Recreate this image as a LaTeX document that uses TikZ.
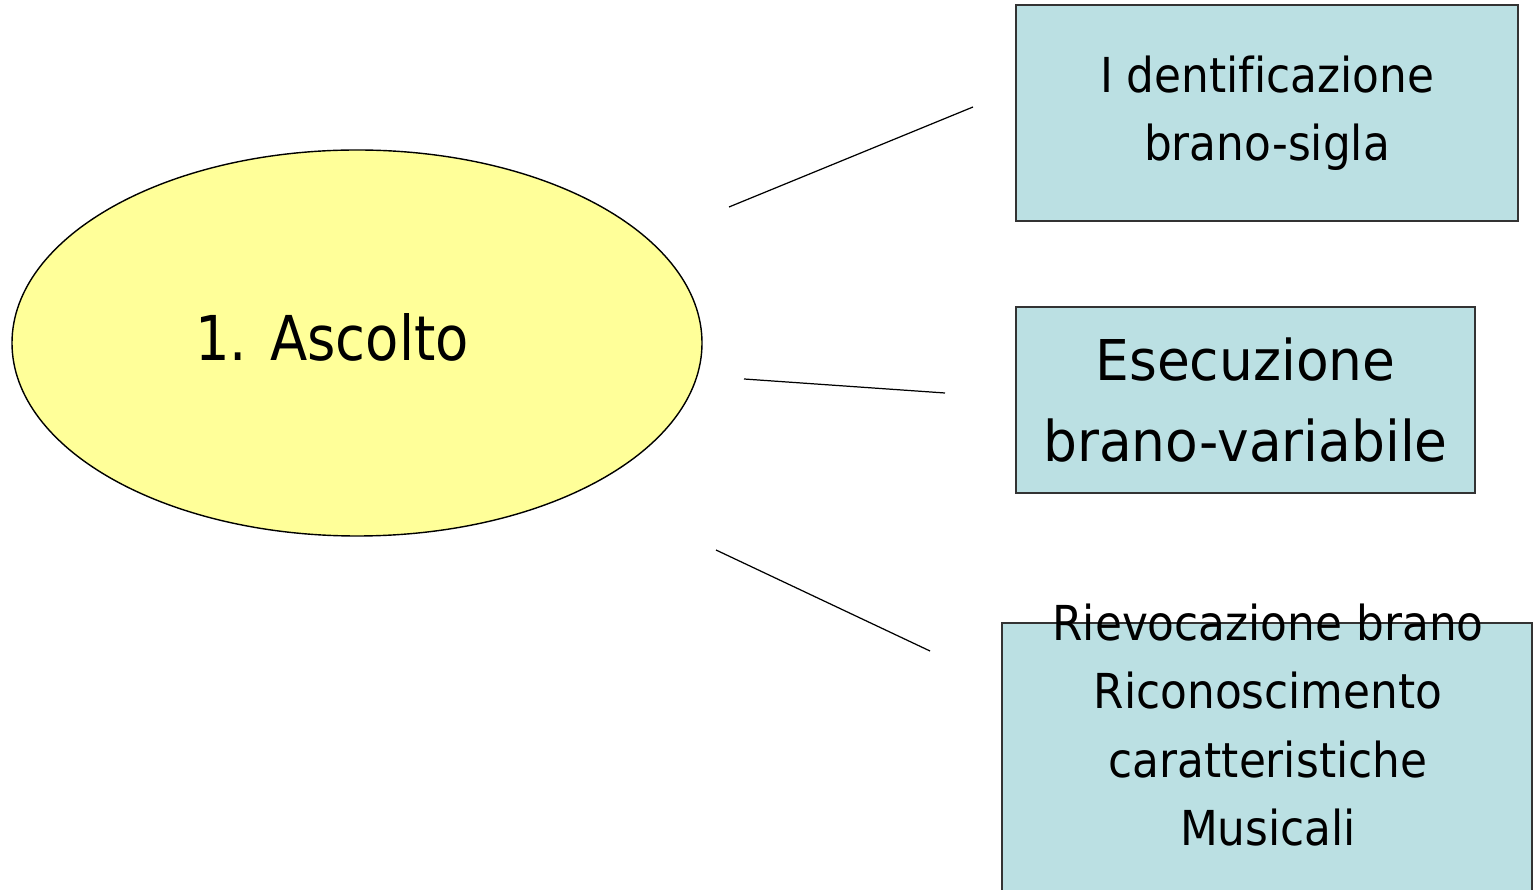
\documentclass[tikz,border=0pt]{standalone}
\usepackage{fontspec}
\setmainfont{DejaVu Sans}[FakeStretch=0.91, Ligatures=NoCommon]
\newfontfamily\wideface{DejaVu Sans}[FakeStretch=0.95, Ligatures=NoCommon]
\newfontfamily\blobface{DejaVu Sans}[FakeStretch=0.88, Ligatures=NoCommon]
\usetikzlibrary{shapes.geometric}
\definecolor{blobyellow}{HTML}{FFFF99}
\definecolor{boxblue}{HTML}{BBE0E3}
\newcommand\bigtxt{\blobface\fontsize{17.6}{21}\selectfont}
\newcommand\midtxt{\wideface\fontsize{16}{23.3}\selectfont}
\newcommand\smalltxt{\fontsize{13.7}{19.4}\selectfont}
\tikzset{
  blob/.style={ellipse, draw=black, line width=0.4pt, fill=blobyellow, inner sep=0pt,
    minimum width=6.9cm, minimum height=3.86cm},
  infobox/.style={rectangle, draw=black!80, line width=0.55pt, fill=boxblue, align=center, inner sep=0pt},
  link/.style={draw=black, line width=0.35pt}
}

\begin{document}
\begin{tikzpicture}
      \useasboundingbox (0, 0) rectangle (15.36, -8.9);

      \node[blob, label={[font=\bigtxt, xshift=-0.25cm, yshift=0.06cm]center:1. Ascolto}] (ascolto) at (3.57, -3.43) {};

      \node[infobox, minimum width=5.02cm, minimum height=2.16cm, font=\smalltxt] (ident) at (12.67, -1.13) {I dentificazione\\brano-sigla};
      \node[infobox, minimum width=4.59cm, minimum height=1.86cm, font=\midtxt] (esec) at (12.455, -4.00) {Esecuzione\\brano-variabile};
      \node[infobox, minimum width=5.30cm, minimum height=2.80cm] (riev) at (12.67, -7.63) {};
      \node[align=center, inner sep=0pt, font=\smalltxt] (rievtxt) at (12.68, -7.25) {Rievocazione brano\\Riconoscimento\\caratteristiche\\Musicali};

      % free-standing connectors
      \coordinate (from1) at (7.29, -2.07);
      \coordinate (to1) at (9.73, -1.07);
      \coordinate (from2) at (7.44, -3.79);
      \coordinate (to2) at (9.45, -3.93);
      \coordinate (from3) at (7.16, -5.50);
      \coordinate (to3) at (9.30, -6.51);
      \draw [link] (from1) -- (to1);
      \draw [link] (from2) -- (to2);
      \draw [link] (from3) -- (to3);
    \end{tikzpicture}
\end{document}
